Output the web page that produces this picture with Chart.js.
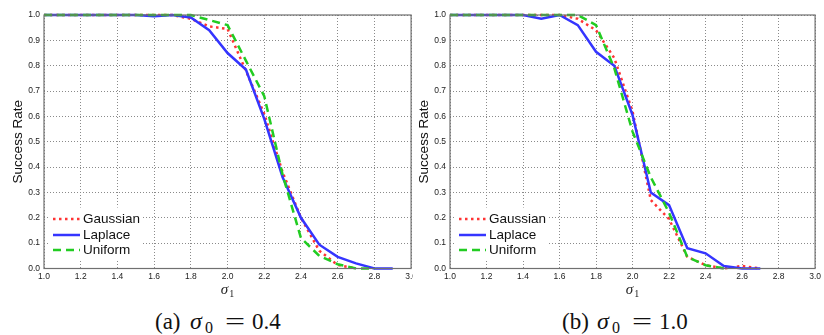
<!DOCTYPE html>
<html>
<head>
<meta charset="utf-8">
<script src="https://cdn.jsdelivr.net/npm/chart.js@4.4.1/dist/chart.umd.min.js"></script>
<style>
  html, body { margin: 0; padding: 0; background: #fff; }
  body { width: 824px; height: 335px; position: relative; overflow: hidden; }
  .wrap { position: absolute; top: 0; height: 300px; overflow: hidden; }
  #w1 { left: 0; width: 413px; }
  #w2 { left: 413px; width: 411px; }
  #c1 { width: 420px; height: 300px; display: block; }
  #c2 { width: 411px; height: 300px; display: block; }
  .cp { position: absolute; top: 310px; line-height: 23px; font-family: "Liberation Serif", "DejaVu Serif", serif; font-size: 23px; color: #111; white-space: nowrap; }
  .cp.it { font-style: italic; font-size: 24px; }
  .cp.sb { font-size: 16px; top: 320px; line-height: 16px; }
  .cp.eq { transform: scaleX(1.55); transform-origin: left center; }
</style>
</head>
<body>
<div class="wrap" id="w1"><canvas id="c1" width="420" height="300"></canvas></div>
<div class="wrap" id="w2"><canvas id="c2" width="411" height="300"></canvas></div>

<span class="cp" style="left:155px">(a)</span>
<span class="cp it" style="left:190px">σ</span>
<span class="cp sb" style="left:205px">0</span>
<span class="cp eq" style="left:225px">=</span>
<span class="cp" style="left:252px">0.4</span>

<span class="cp" style="left:562px">(b)</span>
<span class="cp it" style="left:597px">σ</span>
<span class="cp sb" style="left:612px">0</span>
<span class="cp eq" style="left:632px">=</span>
<span class="cp" style="left:659px">1.0</span>
<script>
// ---- data ----
const seriesNames = ["Gaussian", "Laplace", "Uniform"];
const sigma1 = [1.0, 1.1, 1.2, 1.3, 1.4, 1.5, 1.6, 1.7, 1.8, 1.9, 2.0, 2.1, 2.2, 2.3, 2.4, 2.5, 2.6, 2.7, 2.8, 2.9];
const xTicks = [1.0, 1.2, 1.4, 1.6, 1.8, 2.0, 2.2, 2.4, 2.6, 2.8, 3.0];
const yTicks = [0.0, 0.1, 0.2, 0.3, 0.4, 0.5, 0.6, 0.7, 0.8, 0.9, 1.0];
const xTitleMain = "σ";
const xTitleSub = "1";
const yTitle = "Success Rate";

// (a) sigma0 = 0.4
const gaussianA = [1.0, 1.0, 1.0, 1.0, 1.0, 1.0, 1.0, 1.0, 0.985, 0.955, 0.945, 0.78, 0.61, 0.38, 0.20, 0.07, 0.014, 0.0, null, null];
const laplaceA  = [1.0, 1.0, 1.0, 1.0, 1.0, 1.0, 0.995, 1.0, 0.99, 0.94, 0.85, 0.785, 0.59, 0.36, 0.20, 0.094, 0.046, 0.02, 0.0, 0.0];
const uniformA  = [1.0, 1.0, 1.0, 1.0, 1.0, 1.0, 1.0, 1.0, 1.0, 0.98, 0.96, 0.82, 0.68, 0.37, 0.12, 0.05, 0.017, 0.0, 0.0, null];

// (b) sigma0 = 1.0
const gaussianB = [1.0, 1.0, 1.0, 1.0, 1.0, 1.0, 1.0, 0.985, 0.94, 0.83, 0.62, 0.27, 0.195, 0.046, 0.013, 0.0, 0.01, 0.0, null, null];
const laplaceB  = [1.0, 1.0, 1.0, 1.0, 1.0, 0.985, 1.0, 0.96, 0.855, 0.80, 0.605, 0.30, 0.25, 0.08, 0.06, 0.01, 0.0, 0.0, null, null];
const uniformB  = [1.0, 1.0, 1.0, 1.0, 1.0, 1.0, 1.0, 1.0, 0.96, 0.79, 0.54, 0.36, 0.22, 0.045, 0.013, 0.0, null, null, null, null];

// ---- styles ----
const styles = [
  { color: "#ff3333", dash: [2.5, 3.5], order: 3 },
  { color: "#3535ff", dash: [], order: 2 },
  { color: "#22cc22", dash: [8, 5], order: 1 }
];

function toPoints(ys) {
  const pts = [];
  for (let i = 0; i < sigma1.length; i++) {
    if (ys[i] !== null && ys[i] !== undefined) pts.push({ x: sigma1[i], y: ys[i] });
  }
  return pts;
}

const framePlugin = {
  id: "frame",
  afterDatasetsDraw(chart) {
    const { ctx, chartArea: a } = chart;
    ctx.save();
    ctx.setLineDash([]);
    ctx.strokeStyle = "#707070";
    ctx.lineWidth = 1.2;
    ctx.strokeRect(a.left, a.top, a.right - a.left, a.bottom - a.top);
    ctx.restore();
  }
};

const xTitlePlugin = {
  id: "xTitle",
  afterDraw(chart) {
    const { ctx, chartArea: a } = chart;
    ctx.save();
    const mainFont = "italic 15px 'Liberation Serif', 'DejaVu Serif', serif";
    const subFont = "10px 'Liberation Serif', 'DejaVu Serif', serif";
    ctx.font = mainFont;
    const w1 = ctx.measureText(xTitleMain).width;
    ctx.font = subFont;
    const w2 = ctx.measureText(xTitleSub).width;
    const total = w1 + 1 + w2;
    const cx = (a.left + a.right) / 2;
    const x0 = cx - total / 2;
    ctx.fillStyle = "#222";
    ctx.textBaseline = "alphabetic";
    ctx.textAlign = "left";
    ctx.font = mainFont;
    ctx.fillText(xTitleMain, x0, a.bottom + 25.5);
    ctx.font = subFont;
    ctx.fillText(xTitleSub, x0 + w1 + 1, a.bottom + 28.5);
    ctx.restore();
  }
};

const legendPlugin = {
  id: "customLegend",
  afterDraw(chart) {
    const { ctx, chartArea: a } = chart;
    const bx = a.left + 5, by = a.bottom - 61, bw = 94, bh = 52;
    ctx.save();
    ctx.fillStyle = "#ffffff";
    ctx.fillRect(bx, by, bw, bh);
    const rows = [-49.5, -33.5, -18.5];
    chart.data.datasets.forEach((ds, i) => {
      const y = a.bottom + rows[i];
      ctx.beginPath();
      ctx.setLineDash(styles[i].dash);
      ctx.lineWidth = 2.5;
      ctx.lineCap = "butt";
      ctx.strokeStyle = styles[i].color;
      ctx.moveTo(a.left + 9, y);
      ctx.lineTo(a.left + 36, y);
      ctx.stroke();
      ctx.setLineDash([]);
      ctx.fillStyle = "#111";
      ctx.font = "13.5px 'Liberation Sans', Arial, sans-serif";
      ctx.textBaseline = "middle";
      ctx.textAlign = "left";
      ctx.fillText(ds.label, a.left + 39, y + 0.5);
    });
    ctx.restore();
  }
};

function makeChart(id, series, yAxisWidth, padRight, yTitlePad) {
  const datasets = series.map((ys, i) => ({
    label: seriesNames[i],
    data: toPoints(ys),
    borderColor: styles[i].color,
    backgroundColor: styles[i].color,
    borderWidth: 2.5,
    borderDash: styles[i].dash,
    borderCapStyle: "butt",
    borderJoinStyle: "miter",
    pointRadius: 0,
    tension: 0,
    fill: false,
    order: styles[i].order,
    clip: 3
  }));
  return new Chart(document.getElementById(id), {
    type: "line",
    data: { datasets },
    options: {
      responsive: false,
      animation: false,
      devicePixelRatio: 1,
      layout: { padding: { top: 15, right: padRight, left: 0, bottom: 0 } },
      plugins: { legend: { display: false }, tooltip: { enabled: false } },
      scales: {
        x: {
          type: "linear",
          min: 1.0,
          max: 3.0,
          afterBuildTicks: (s) => { s.ticks = xTicks.map(v => ({ value: v })); },
          afterFit: (s) => { s.height = 31.5; },
          grid: { color: "#8a8a8a", lineWidth: 1, drawTicks: false },
          border: { display: false, dash: [1, 2] },
          ticks: {
            padding: 3,
            color: "#222",
            font: { family: "'Liberation Sans', Arial, sans-serif", size: 8.5 },
            callback: (v) => Number(v).toFixed(1),
            maxRotation: 0,
            autoSkip: false
          },
          title: { display: false }
        },
        y: {
          type: "linear",
          min: 0,
          max: 1.0,
          afterBuildTicks: (s) => { s.ticks = yTicks.map(v => ({ value: v })); },
          afterFit: (s) => { s.width = yAxisWidth; },
          grid: { color: "#8a8a8a", lineWidth: 1, drawTicks: false },
          border: { display: false, dash: [1, 2] },
          ticks: {
            padding: 4,
            color: "#222",
            font: { family: "'Liberation Sans', Arial, sans-serif", size: 8.5 },
            callback: (v) => Number(v).toFixed(1),
            autoSkip: false
          },
          title: {
            display: true,
            text: yTitle,
            color: "#111",
            padding: { top: yTitlePad, bottom: 0 },
            font: { family: "'Liberation Sans', Arial, sans-serif", size: 13.5 }
          }
        }
      }
    },
    plugins: [framePlugin, legendPlugin, xTitlePlugin]
  });
}

makeChart("c1", [gaussianA, laplaceA, uniformA], 44, 7, 10);
makeChart("c2", [gaussianB, laplaceB, uniformB], 37, 6, 3);
</script>
</body>
</html>
